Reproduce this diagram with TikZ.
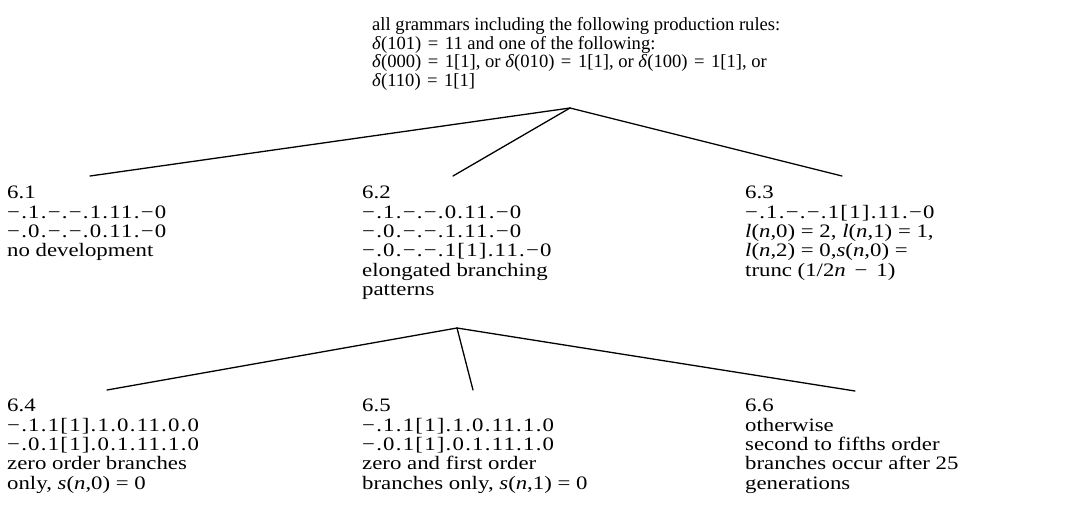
\documentclass[tikz,border=0pt]{standalone}
\usepackage{fontspec}
\setmainfont[FakeStretch=1.2]{Liberation Serif}
\newfontfamily\topserif{Liberation Serif}
\newfontfamily\codefont[FakeStretch=1.2,LetterSpace=6.5]{Liberation Serif}
\newcommand{\eqs}{\hspace{0.1em}=\hspace{0.1em}}
\begin{document}
\begin{tikzpicture}[x=1pt,y=-1pt,
  txt/.style={inner sep=0pt, anchor=north west, align=left, font=\fontsize{19}{19.4}\selectfont},
  toptxt/.style={inner sep=0pt, anchor=north west, align=left, font=\topserif\fontsize{18.6}{18.8}\selectfont},
  conn/.style={line width=1.3pt, line cap=round}]
\useasboundingbox (0,0) rectangle (1082,517);
\node[toptxt] (top) at (372,17) {all grammars including the following production rules:\\
\textit{δ}(101) \eqs{} 11 and one of the following:\\
\textit{δ}(000) \eqs{} 1[1], or \textit{δ}(010) \eqs{} 1[1], or \textit{δ}(100) \eqs{} 1[1], or\\
\textit{δ}(110) \eqs{} 1[1]};
\node[txt] (n61) at (7,186) {6.1\\ {\codefont −.1.−.−.1.11.−0}\\ {\codefont −.0.−.−.0.11.−0}\\ no development};
\node[txt] (n62) at (362,186) {6.2\\ {\codefont −.1.−.−.0.11.−0}\\ {\codefont −.0.−.−.1.11.−0}\\ {\codefont −.0.−.−.1[1].11.−0}\\ elongated branching\\ patterns};
\node[txt] (n63) at (745,186) {6.3\\ {\codefont −.1.−.−.1[1].11.−0}\\ \textit{l}(\textit{n},0) = 2, \textit{l}(\textit{n},1) = 1,\\ \textit{l}(\textit{n},2) = 0,\textit{s}(\textit{n},0) =\\ trunc (1/2\textit{n} \,−\, 1)};
\node[txt] (n64) at (7,399) {6.4\\ {\codefont −.1.1[1].1.0.11.0.0}\\ {\codefont −.0.1[1].0.1.11.1.0}\\ zero order branches\\ only, \textit{s}(\textit{n},0) = 0};
\node[txt] (n65) at (362,399) {6.5\\ {\codefont −.1.1[1].1.0.11.1.0}\\ {\codefont −.0.1[1].0.1.11.1.0}\\ zero and first order\\ branches only, \textit{s}(\textit{n},1) = 0};
\node[txt] (n66) at (745,399) {6.6\\ otherwise\\ second to fifths order\\ branches occur after 25\\ generations};
\coordinate (a1) at (570,108);
\coordinate (e61) at (90,176);
\coordinate (e62) at (453,176);
\coordinate (e63) at (842,176);
\coordinate (a2) at (457,328);
\coordinate (e64) at (107,390);
\coordinate (e65) at (473,390);
\coordinate (e66) at (855,391);
\draw[conn] (a1) -- (e61);
\draw[conn] (a1) -- (e62);
\draw[conn] (a1) -- (e63);
\draw[conn] (a2) -- (e64);
\draw[conn] (a2) -- (e65);
\draw[conn] (a2) -- (e66);
\end{tikzpicture}
\end{document}
